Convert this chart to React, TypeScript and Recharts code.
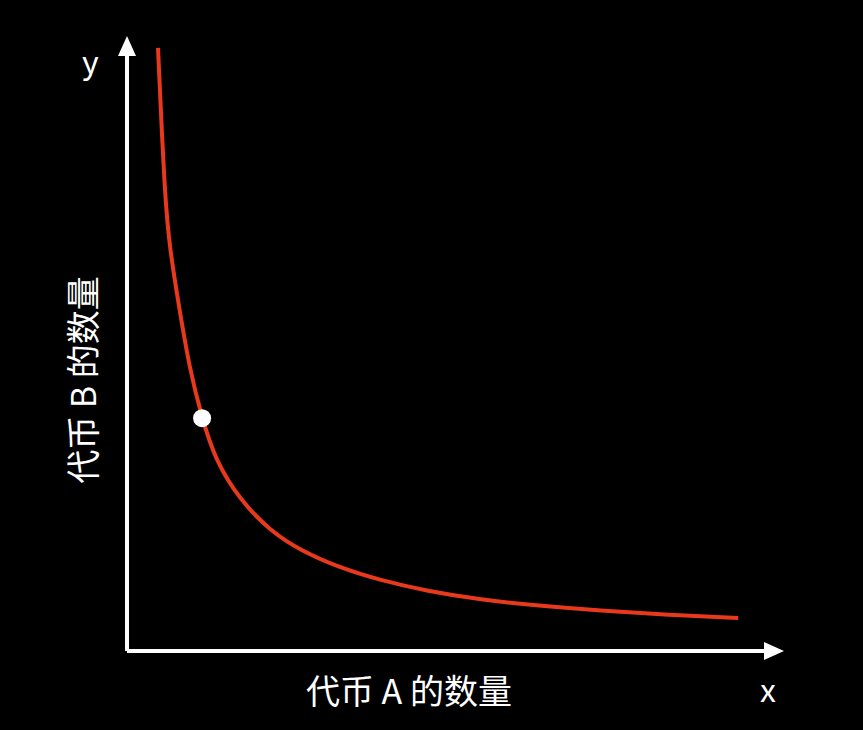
import { ComposedChart, Line, XAxis, YAxis, ReferenceDot, ReferenceLine } from "recharts";

// points (token A amount, token B amount)
const amountA = [4.75, 5.8, 6.6, 7.8, 9.6, 11.5, 13.5, 17.3, 22, 26.5, 32.6, 38.7, 46, 54.1, 63, 72.4, 83, 93.6];
const amountB = [98.7, 73.8, 65.6, 57.4, 46, 38.1, 31.3, 24.7, 19.6, 16.5, 13.6, 11.6, 9.8, 8.4, 7.4, 6.6, 5.9, 5.4];
const current = { a: 11.5, b: 38.1 };

const data = amountA.map((a, i) => ({ a, b: amountB[i] }));

const ArrowRight = (p: any) => (
  <path d={`M${p.cx - 16},${p.cy - 9} L${p.cx + 4},${p.cy} L${p.cx - 16},${p.cy + 9} Z`} fill="#fff" />
);
const ArrowUp = (p: any) => (
  <path d={`M${p.cx - 9},${p.cy + 16} L${p.cx},${p.cy - 4} L${p.cx + 9},${p.cy + 16} Z`} fill="#fff" />
);

const font = '"Noto Sans CJK SC", "Noto Sans", sans-serif';

export default function App() {
  return (
    <div style={{ position: "fixed", left: 0, top: 0, width: 863, height: 730, background: "#000", fontFamily: font, color: "#fff" }}>
      <ComposedChart width={863} height={730} data={data} margin={{ top: 40, right: 83, bottom: 79, left: 127 }}>
        <XAxis type="number" dataKey="a" domain={[0, 100]} hide />
        <YAxis type="number" domain={[0, 100]} hide />
        <ReferenceLine segment={[{ x: 0, y: 0 }, { x: 98, y: 0 }]} stroke="#fff" strokeWidth={4} ifOverflow="visible" />
        <ReferenceLine segment={[{ x: 0, y: 0 }, { x: 0, y: 98 }]} stroke="#fff" strokeWidth={4} ifOverflow="visible" />
        <Line type="basis" dataKey="b" stroke="#e8391c" strokeWidth={4} dot={false} isAnimationActive={false} />
        <ReferenceDot x={current.a} y={current.b} r={9} fill="#fff" stroke="none" ifOverflow="visible" />
        <ReferenceDot x={100} y={0} shape={ArrowRight} ifOverflow="visible" />
        <ReferenceDot x={0} y={100} shape={ArrowUp} ifOverflow="visible" />
      </ComposedChart>
      <div style={{ position: "absolute", left: 306, top: 668, fontSize: 34, lineHeight: 1.3 }}>代币 A 的数量</div>
      <div style={{ position: "absolute", left: 760, top: 668, fontSize: 32, lineHeight: 1.3 }}>x</div>
      <div style={{ position: "absolute", left: 82, top: 40, fontSize: 32, lineHeight: 1.3 }}>y</div>
      <div style={{ position: "absolute", left: 82, top: 380, fontSize: 34, lineHeight: 1.3, whiteSpace: "nowrap",
        transform: "translate(-50%, -50%) rotate(-90deg)" }}>代币 B 的数量</div>
    </div>
  );
}
